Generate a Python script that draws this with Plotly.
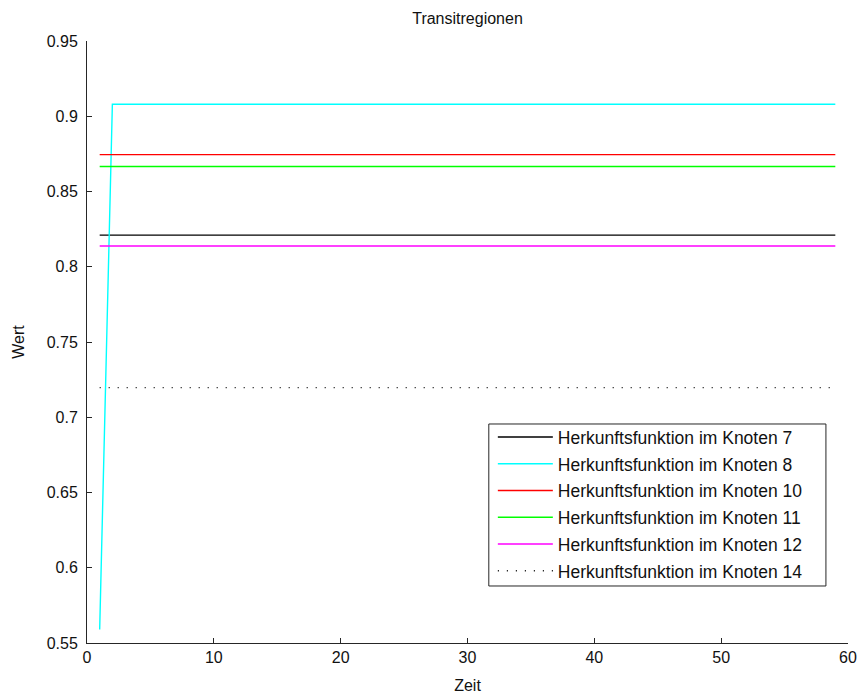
import plotly.graph_objects as go

# Data
names = ["Herkunftsfunktion im Knoten 7", "Herkunftsfunktion im Knoten 8",
         "Herkunftsfunktion im Knoten 10", "Herkunftsfunktion im Knoten 11",
         "Herkunftsfunktion im Knoten 12", "Herkunftsfunktion im Knoten 14"]
x_const = [1, 59]
x_k8 = [1, 2, 59]
y_k7 = [0.821, 0.821]
y_k8 = [0.559, 0.908, 0.908]
y_k10 = [0.8745, 0.8745]
y_k11 = [0.8666, 0.8666]
y_k12 = [0.8138, 0.8138]
y_k14 = [0.7197, 0.7197]
x_ticks = [0, 10, 20, 30, 40, 50, 60]
y_ticks = [0.55, 0.6, 0.65, 0.7, 0.75, 0.8, 0.85, 0.9, 0.95]
y_ticktext = ["0.55", "0.6", "0.65", "0.7", "0.75", "0.8", "0.85", "0.9", "0.95"]

series = [
    (x_const, y_k7, "#000000", "solid"),
    (x_k8, y_k8, "#00ffff", "solid"),
    (x_const, y_k10, "#ff0000", "solid"),
    (x_const, y_k11, "#00ff00", "solid"),
    (x_const, y_k12, "#ff00ff", "solid"),
    (x_const, y_k14, "#000000", "1px,8px"),
]

FONT = "Liberation Sans"
TXT = "#111111"
fig = go.Figure()
for i, ((xs, ys, col, dash), nm) in enumerate(zip(series, names)):
    fig.add_trace(go.Scatter(x=xs, y=ys, mode="lines", name=nm,
                             legendgroup=str(i),
                             line=dict(color=col, width=1.4, dash=dash)))

# legend frame (drawn as a shape so its size matches the reference)
fig.add_shape(type="rect", xref="paper", yref="paper",
              x0=0.528, x1=0.971, y0=0.0947, y1=0.3638,
              line=dict(color="#262626", width=1), fillcolor="white", layer="below")

axis_common = dict(showgrid=False, zeroline=False, showline=True, linecolor="#262626",
                   linewidth=1, ticks="inside", ticklen=5, tickcolor="#262626",
                   automargin=False,
                   tickfont=dict(family=FONT, size=16, color=TXT))
fig.update_layout(
    width=859, height=695,
    margin=dict(l=87, r=11, t=41, b=52, autoexpand=False),
    paper_bgcolor="white", plot_bgcolor="white",
    title=dict(text="Transitregionen", xref="paper", x=0.5, xanchor="center",
               y=1 - 18 / 695, yanchor="middle",
               font=dict(family=FONT, size=16, color=TXT)),
    xaxis=dict(range=[0, 60], tickvals=x_ticks,
               title=dict(text="Zeit", standoff=14, font=dict(family=FONT, size=16, color=TXT)),
               **axis_common),
    yaxis=dict(range=[0.55, 0.95], tickvals=y_ticks, ticktext=y_ticktext,
               ticklabelstandoff=5,
               title=dict(text="Wert", standoff=18, font=dict(family=FONT, size=16, color=TXT)),
               **axis_common),
    legend=dict(x=0.5333, y=0.372, xanchor="left", yanchor="top",
                bgcolor="rgba(0,0,0,0)", borderwidth=0,
                tracegroupgap=1, itemwidth=55,
                font=dict(family=FONT, size=17.5, color=TXT)),
    showlegend=True,
)
fig.write_html(
    "out.html",
    config={"displayModeBar": False},
    post_script="document.body.style.margin='0';document.body.style.overflow='hidden';",
)
